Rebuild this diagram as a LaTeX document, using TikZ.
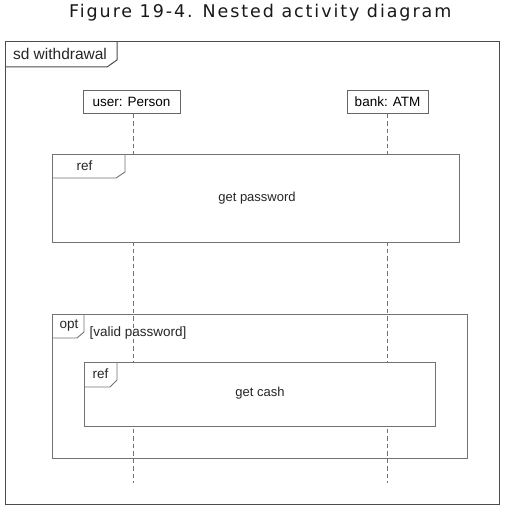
\documentclass[tikz,border=0pt]{standalone}
\usepackage{fontspec}
\setmainfont{Liberation Sans}
\newfontfamily\titlefont[LetterSpace=11]{DejaVu Sans}
\begin{document}
\begin{tikzpicture}[x=1pt,y=-1pt,
  frameline/.style={draw=black!55,line width=0.9pt},
  outerline/.style={draw=black!70,line width=1pt},
  lifeline/.style={draw=black!55,line width=0.9pt,dash pattern=on 4.5pt off 3pt},
  headbox/.style={draw=black!60,line width=0.9pt,fill=white,font=\fontsize{13.5}{15}\selectfont,inner sep=0pt,minimum height=23pt,anchor=north},
  lbl/.style={font=\fontsize{13.5}{15}\selectfont,text=black!85,inner sep=0pt},
  reftext/.style={font=\fontsize{13}{15}\selectfont,text=black!85,inner sep=0pt}]
\useasboundingbox (0,0) rectangle (506,508);
\fill[white] (0,0) rectangle (506,508);
% title
\node[font=\titlefont\fontsize{17.5}{19}\selectfont,text=black!90,inner sep=0pt,anchor=west] (title) at (69,12.5) {Figure 19-4. Nested activity diagram};
% outer frame
\draw[outerline] (5,42) rectangle (499,504);
\draw[outerline] (5,67) -- (107,67) -- (117,60) -- (117,42);
\node[font=\fontsize{15.5}{17}\selectfont,text=black!85,inner sep=0pt] (sdlbl) at (60,54) {sd withdrawal};
% lifeline heads
\node[headbox,minimum width=97pt] (user) at (131.5,90) {user: Person};
\node[headbox,minimum width=81pt] (bank) at (387.5,90) {bank: ATM};
\coordinate (userend) at (133,483);
\coordinate (bankend) at (387,483);
\draw[lifeline] (133,113.5) -- (userend);
\draw[lifeline] (387,113.5) -- (bankend);
% ref get password
\draw[frameline,fill=white] (52,154) rectangle (459,242);
\draw[frameline] (52,178) -- (116,178) -- (125,172) -- (125,154);
\node[lbl] (ref1) at (84.5,166) {ref};
\node[reftext] (getpw) at (257,198) {get password};
% opt frame
\draw[frameline] (52,314) rectangle (467,458);
\draw[frameline] (52,338) -- (77,338) -- (84,332) -- (84,314);
\node[lbl] (optlbl) at (69,325.5) {opt};
\node[lbl,anchor=west] (guard) at (89.5,333) {[valid password]};
% ref get cash
\draw[frameline,fill=white] (84,362) rectangle (435,426);
\draw[frameline] (84,387) -- (110,387) -- (117,380) -- (117,362);
\node[lbl] (ref2) at (100.5,373.5) {ref};
\node[reftext] (getcash) at (260,393.5) {get cash};
\end{tikzpicture}
\end{document}
